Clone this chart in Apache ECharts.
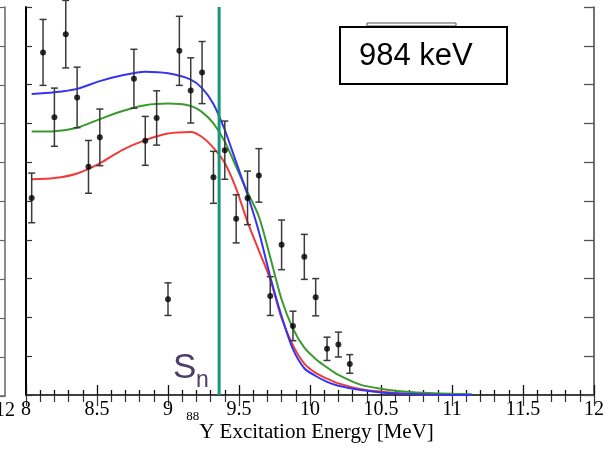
<!DOCTYPE html>
<html>
<head>
<meta charset="utf-8">
<script src="https://cdn.jsdelivr.net/npm/echarts@6/dist/echarts.min.js"></script>
<style>
html,body{margin:0;padding:0;background:#fff;}
#chart{width:616px;height:450px;}
</style>
</head>
<body>
<div id="chart"></div>
<script>
// Experimental points (88Y excitation energy in MeV, value, symmetric error)
const expX = [8.04, 8.12, 8.20, 8.28, 8.36, 8.44, 8.52, 8.76, 8.84, 8.92, 9.00, 9.08, 9.16, 9.24, 9.32, 9.40, 9.48, 9.56, 9.64, 9.72, 9.80, 9.88, 9.96, 10.04, 10.12, 10.20, 10.28];
const expY = [5.08, 8.83, 7.16, 9.30, 7.67, 5.88, 6.64, 8.15, 6.55, 7.14, 2.47, 8.87, 7.85, 8.31, 5.61, 6.31, 4.54, 5.08, 5.66, 2.55, 3.87, 1.78, 3.56, 2.52, 1.19, 1.30, 0.80];
const expErr = [0.64, 0.85, 0.75, 0.87, 0.78, 0.68, 0.73, 0.76, 0.63, 0.70, 0.42, 0.89, 0.84, 0.80, 0.67, 0.75, 0.62, 0.69, 0.69, 0.50, 0.64, 0.38, 0.58, 0.48, 0.30, 0.32, 0.24];

// Calculated curves
const curveX = [8.04, 8.2, 8.36, 8.52, 8.68, 8.84, 9.0, 9.16, 9.24, 9.32, 9.4, 9.48, 9.56, 9.64, 9.72, 9.8, 9.88, 9.96, 10.04, 10.12, 10.2, 10.36, 10.52, 10.68, 10.84, 11.0, 11.14];
const blueY = [7.76, 7.80, 7.89, 8.09, 8.24, 8.33, 8.29, 8.13, 7.91, 7.50, 6.83, 6.00, 5.16, 4.21, 3.05, 2.03, 1.18, 0.69, 0.49, 0.34, 0.24, 0.13, 0.06, 0.03, 0.01, 0.0, 0.0];
const greenY = [6.79, 6.80, 6.89, 7.11, 7.32, 7.47, 7.51, 7.45, 7.29, 7.00, 6.53, 5.88, 5.23, 4.60, 3.55, 2.46, 1.71, 1.22, 0.93, 0.71, 0.52, 0.26, 0.15, 0.085, 0.05, 0.03, 0.02];
const redY = [5.56, 5.59, 5.71, 5.97, 6.32, 6.57, 6.74, 6.78, 6.65, 6.37, 5.98, 5.32, 4.46, 3.72, 2.98, 1.98, 1.28, 0.81, 0.57, 0.42, 0.30, 0.15, 0.08, 0.035, 0.015, 0.005, 0.0];

// Neutron separation energy
const snEnergy = 9.36;
const yRange = [0, 10];

// Axis settings
const xMin = 8, xMax = 12, xStep = 0.5;
const energyLabel = '984 keV';

const chart = echarts.init(document.getElementById('chart'), null, {renderer: 'canvas'});

const pair = (xs, ys) => xs.map((x, i) => [x, ys[i]]);

const option = {
  animation: false,
  backgroundColor: '#ffffff',
  grid: [
    {left: 26, top: 7, width: 568, height: 388, containLabel: false, outerBoundsMode: 'none'},
    {left: 0, top: 7, width: 5, height: 389, containLabel: false, outerBoundsMode: 'none'}
  ],
  xAxis: [
    {
      gridIndex: 0, type: 'value', min: xMin, max: xMax, interval: xStep, position: 'bottom',
      axisLine: {show: true, lineStyle: {color: '#000', width: 2}},
      axisTick: {show: true, inside: true, length: 10, lineStyle: {color: '#111', width: 1.3}},
      minorTick: {show: true, splitNumber: 5, length: 5, lineStyle: {color: '#111', width: 1.3}},
      splitLine: {show: false},
      axisLabel: {show: true, margin: 5, fontFamily: 'Liberation Serif', fontSize: 20, color: '#000',
        formatter: v => String(v)},
      name: '{sup|88}{b|Y Excitation Energy [MeV]}',
      nameLocation: 'middle', nameGap: 15, nameMoveOverlap: false,
      nameTextStyle: {
        verticalAlign: 'top',
        rich: {
          sup: {fontFamily: 'Liberation Serif', fontSize: 13, color: '#000', verticalAlign: 'top'},
          b: {fontFamily: 'Liberation Serif', fontSize: 21, color: '#000', padding: [12, 0, 0, 0]}
        }
      }
    },
    {
      gridIndex: 0, type: 'value', min: xMin, max: xMax, interval: xStep, position: 'top',
      axisLine: {show: true, lineStyle: {color: '#555', width: 1.5}},
      axisTick: {show: true, inside: true, length: 11, lineStyle: {color: '#333', width: 1.2}},
      minorTick: {show: true, splitNumber: 5, length: 7, lineStyle: {color: '#333', width: 1.2}},
      splitLine: {show: false},
      axisLabel: {show: false}
    },
    {
      gridIndex: 1, type: 'value', min: 11.5, max: 12, interval: 0.5, position: 'bottom',
      axisLine: {show: true, lineStyle: {color: '#666', width: 1.5}},
      axisTick: {show: false},
      splitLine: {show: false},
      axisLabel: {show: true, showMinLabel: false, margin: 5, fontFamily: 'Liberation Serif', fontSize: 20, color: '#000',
        formatter: v => (v === 12 ? '12' : '')}
    }
  ],
  yAxis: [
    {
      gridIndex: 0, type: 'value', min: yRange[0], max: yRange[1], interval: 1, position: 'left',
      axisLine: {show: true, lineStyle: {color: '#000', width: 2}},
      axisTick: {show: true, inside: true, length: 6, lineStyle: {color: '#333', width: 1.2}},
      splitLine: {show: false},
      axisLabel: {show: false}
    },
    {
      gridIndex: 0, type: 'value', min: yRange[0], max: yRange[1], interval: 1, position: 'right',
      axisLine: {show: true, lineStyle: {color: '#444', width: 1.5}},
      axisTick: {show: true, inside: true, length: 10, lineStyle: {color: '#555', width: 1.3}},
      splitLine: {show: false},
      axisLabel: {show: false}
    },
    {
      gridIndex: 1, type: 'value', min: yRange[0], max: yRange[1], interval: 1, position: 'right',
      axisLine: {show: true, lineStyle: {color: '#666', width: 1.5}},
      axisTick: {show: true, inside: true, length: 5, lineStyle: {color: '#666', width: 1.2}},
      splitLine: {show: false},
      axisLabel: {show: false}
    }
  ],
  series: [
    {
      name: 'red', type: 'line', xAxisIndex: 0, yAxisIndex: 0, data: pair(curveX, redY),
      showSymbol: false, smooth: 0.3, lineStyle: {color: '#f23a3a', width: 2}, z: 3
    },
    {
      name: 'green', type: 'line', xAxisIndex: 0, yAxisIndex: 0, data: pair(curveX, greenY),
      showSymbol: false, smooth: 0.3, lineStyle: {color: '#3a9a2e', width: 2}, z: 3
    },
    {
      name: 'blue', type: 'line', xAxisIndex: 0, yAxisIndex: 0, data: pair(curveX, blueY),
      showSymbol: false, smooth: 0.3, lineStyle: {color: '#3434f2', width: 2}, z: 4
    },
    {
      name: 'Sn', type: 'line', xAxisIndex: 0, yAxisIndex: 0,
      data: [[snEnergy, yRange[0]], [snEnergy, yRange[1]]],
      showSymbol: false, lineStyle: {color: '#16967c', width: 3}, z: 5
    },
    {
      name: 'errors', type: 'custom', xAxisIndex: 0, yAxisIndex: 0,
      data: expX.map((x, i) => [x, expY[i], expErr[i]]),
      renderItem: function (params, api) {
        const x = api.value(0), y = api.value(1), e = api.value(2);
        const top = api.coord([x, y + e]);
        const bot = api.coord([x, y - e]);
        const c = 3.5;
        const st = {stroke: '#3a3a3a', lineWidth: 1.5};
        return {
          type: 'group',
          children: [
            {type: 'line', shape: {x1: top[0], y1: top[1], x2: bot[0], y2: bot[1]}, style: st},
            {type: 'line', shape: {x1: top[0] - c, y1: top[1], x2: top[0] + c, y2: top[1]}, style: st},
            {type: 'line', shape: {x1: bot[0] - c, y1: bot[1], x2: bot[0] + c, y2: bot[1]}, style: st}
          ]
        };
      },
      z: 6
    },
    {
      name: 'data', type: 'scatter', xAxisIndex: 0, yAxisIndex: 0,
      data: pair(expX, expY),
      symbol: 'circle', symbolSize: 6, itemStyle: {color: '#000'}, z: 7
    }
  ],
  graphic: [
    {type: 'rect', shape: {x: 367, y: 23, width: 89, height: 3}, style: {fill: '#fff', stroke: '#555', lineWidth: 1}, z: 10},
    {type: 'rect', shape: {x: 340, y: 27, width: 167, height: 57}, style: {fill: '#fff', stroke: '#000', lineWidth: 2}, z: 10},
    {type: 'text', x: 359, y: 56, style: {text: energyLabel, font: '31px "Liberation Sans"', fill: '#000', verticalAlign: 'middle', align: 'left'}, z: 11},
    {type: 'text', x: 173, y: 368, style: {text: 'S', font: '35px "Liberation Sans"', fill: '#4a4068', verticalAlign: 'middle', align: 'left'}, z: 11},
    {type: 'text', x: 196, y: 381, style: {text: 'n', font: '23px "Liberation Sans"', fill: '#4a4068', verticalAlign: 'middle', align: 'left'}, z: 11}
  ]
};

chart.setOption(option);
</script>
</body>
</html>
